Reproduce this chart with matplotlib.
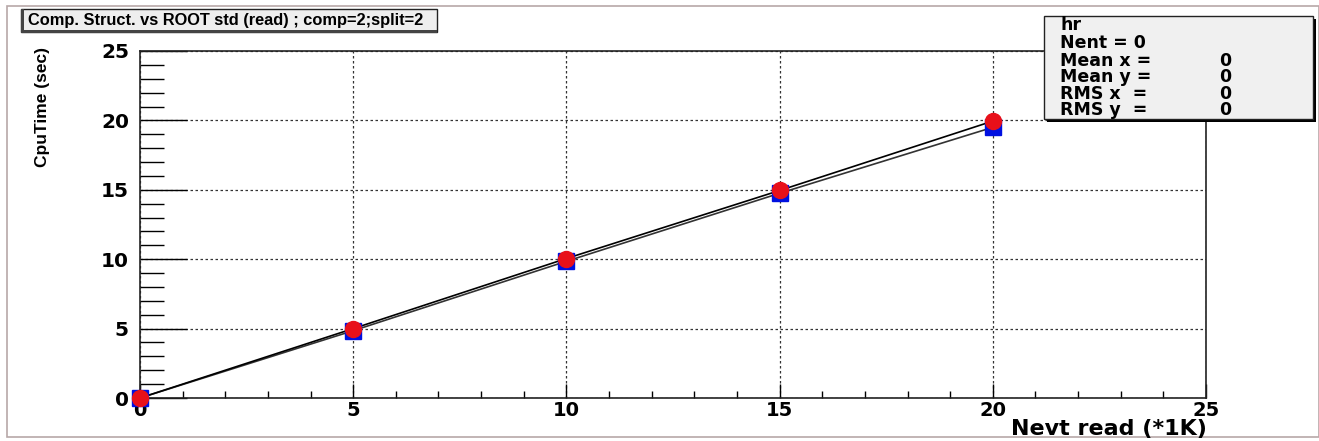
import matplotlib
matplotlib.use("Agg")
import matplotlib.pyplot as plt
from matplotlib.patches import Rectangle
from matplotlib.ticker import MultipleLocator

# data
nevt = [0, 5, 10, 15, 20]
cpu_struct = [0, 4.85, 9.85, 14.75, 19.5]   # blue squares
cpu_std = [0, 5.0, 10.05, 14.95, 19.95]     # red circles
xticks = [0, 5, 10, 15, 20, 25]
yticks = [0, 5, 10, 15, 20, 25]
stats_names = ["Mean x =", "Mean y =", "RMS x  =", "RMS y  ="]
stats_vals = ["0", "0", "0", "0"]

plt.rcParams['font.family'] = ['Liberation Sans', 'DejaVu Sans']
plt.rcParams['font.weight'] = 'bold'
WIDE = 'DejaVu Sans'

W, H = 1319, 441
fig = plt.figure(figsize=(W / 100, H / 100), dpi=100)
fig.patch.set_facecolor('white')

def px(x, y):
    # pixel position (from top-left) -> figure fraction
    return x / W, 1 - y / H

# canvas frame
fig.add_artist(Rectangle(px(7, 437), (W - 7) / W, 431 / H, transform=fig.transFigure,
                         fill=False, edgecolor='#b8a8a8', lw=1.2))

ax = fig.add_axes([140 / W, 1 - 398 / H, (1206 - 140) / W, (398 - 51) / H])
ax.set_xlim(0, 25)
ax.set_ylim(0, 25)

ax.plot(nevt, cpu_struct, color='#333333', lw=1.2, zorder=3)
ax.plot(nevt, cpu_std, color='black', lw=1.2, zorder=3)
ax.plot(nevt, cpu_struct, 's', color='#0010e0', ms=11, mec='#0010e0', zorder=4, clip_on=False)
ax.plot(nevt, cpu_std, 'o', color='#e8101a', ms=11.5, mec='#e8101a', zorder=5, clip_on=False)

ax.set_xticks(xticks)
ax.set_yticks(yticks)
ax.xaxis.set_minor_locator(MultipleLocator(1))
ax.yaxis.set_minor_locator(MultipleLocator(1))
ax.tick_params(axis='x', which='major', direction='in', length=10, width=1, pad=2)
ax.tick_params(axis='x', which='minor', direction='in', length=5, width=1)
ax.tick_params(axis='y', which='major', direction='in', length=34, width=1, pad=8)
ax.tick_params(axis='y', which='minor', direction='in', length=17, width=1)
ax.set_xticklabels([str(t) for t in xticks], family=WIDE, fontsize=14, fontweight='bold')
ax.set_yticklabels([str(t) for t in yticks], family=WIDE, fontsize=14.5, fontweight='bold')
ax.grid(True, which='major', color='#333333', lw=0.9, linestyle=(0, (2, 2)))
for s in ax.spines.values():
    s.set_color('#222222')
    s.set_linewidth(1.2)

fig.text(*px(1207, 429), 'Nevt read (*1K)', family=WIDE, fontsize=16, fontweight='bold',
         ha='right', va='center')
fig.text(*px(43, 47), 'CpuTime (sec)', fontsize=12.5, fontweight='bold', rotation=90,
         ha='center', va='top')

# title box
tx, ty = px(21, 32)
fig.add_artist(Rectangle((tx, ty), (437 - 21) / W, 23 / H, transform=fig.transFigure,
                         facecolor='#eeeeee', edgecolor='#222222', lw=1.0))
fig.add_artist(Rectangle(px(21, 33), 2.5 / W, 24 / H, transform=fig.transFigure,
                         facecolor='#444444', edgecolor='none'))
fig.add_artist(Rectangle(px(21, 33), (437 - 21) / W, 2.5 / H, transform=fig.transFigure,
                         facecolor='#444444', edgecolor='none'))
fig.text(*px(28, 21), 'Comp. Struct. vs ROOT std (read) ; comp=2;split=2',
         fontsize=11.8, fontweight='bold', va='center', ha='left')

# stats box
sx, sy = px(1044, 119)
fig.add_artist(Rectangle(px(1047, 122), (1316 - 1047) / W, (122 - 19) / H, transform=fig.transFigure,
                         facecolor='black', edgecolor='none'))
fig.add_artist(Rectangle((sx, sy), (1313 - 1044) / W, (119 - 16) / H, transform=fig.transFigure,
                         facecolor='#f0f0f0', edgecolor='#222222', lw=1.0))
fig.text(*px(1060, 25), 'hr', family=WIDE, fontsize=12.5, fontweight='bold', va='center')
fig.text(*px(1060, 43), 'Nent = 0', family=WIDE, fontsize=12.5, fontweight='bold', va='center')
rows_y = [61, 77, 94, 110]
for name, val, yy in zip(stats_names, stats_vals, rows_y):
    fig.text(*px(1060, yy), name, family=WIDE, fontsize=12.5, fontweight='bold', va='center')
    fig.text(*px(1225, yy), val, family=WIDE, fontsize=12.5, fontweight='bold', va='center', ha='center')

fig.savefig('out.png', dpi=100)
